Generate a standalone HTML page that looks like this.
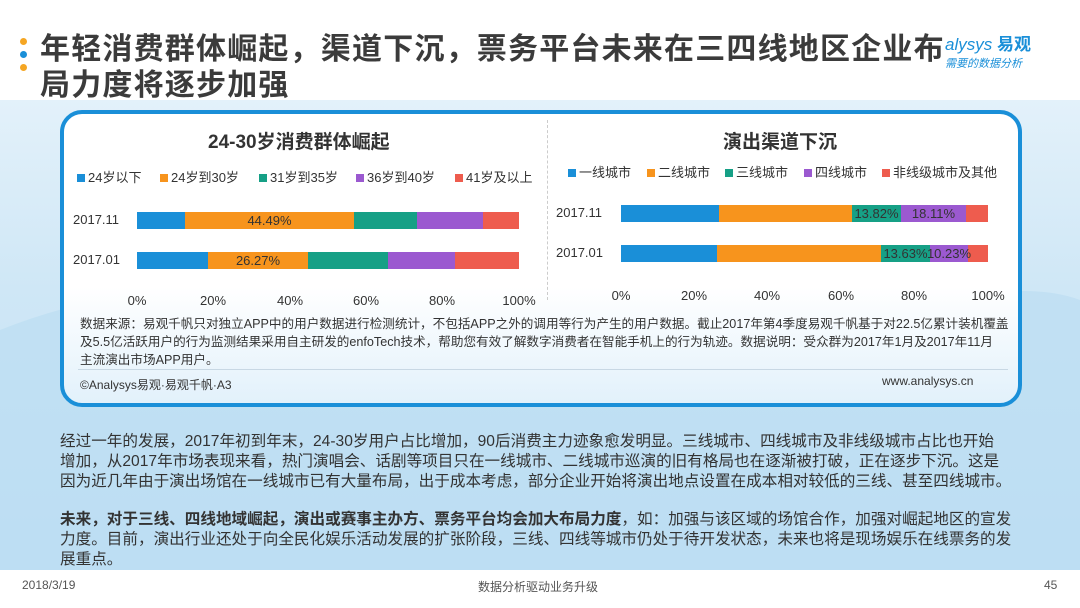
<!DOCTYPE html>
<html><head><meta charset="utf-8"><style>
*{margin:0;padding:0;box-sizing:border-box}
body{width:1080px;height:608px;position:relative;overflow:hidden;background:#fff;font-family:"Liberation Sans","Noto Sans CJK SC",sans-serif;color:#333}
.a{position:absolute;white-space:nowrap}
.bar{position:absolute;height:17px}
.lbl{position:absolute;font-size:13px;color:#333;text-align:center;line-height:17px}
.tk{position:absolute;font-size:13px;color:#333;width:50px;text-align:center}
.lg{position:absolute;font-size:13px;color:#333}
.lg i{display:inline-block;width:8px;height:8px;margin:0 3px 1px 0;vertical-align:middle}
</style></head><body>
<div class="a" style="left:0;top:100px;width:1080px;height:470px;background:linear-gradient(180deg,#e3f1fa 0%,#cfe7f6 40%,#c2e1f4 100%)"></div>
<svg class="a" style="left:0;top:100px" width="1080" height="470">
<path d="M0 230 Q200 150 420 230 T820 240 T1080 200 L1080 470 L0 470Z" fill="#b9dcf2" opacity=".6"/>
</svg>
<div class="a" style="left:20px;top:38px;width:7px;height:7px;border-radius:50%;background:#f5a623"></div>
<div class="a" style="left:20px;top:51px;width:7px;height:7px;border-radius:50%;background:#1a8fd8"></div>
<div class="a" style="left:20px;top:64px;width:7px;height:7px;border-radius:50%;background:#f5a623"></div>
<div class="a" style="left:40px;top:32px;font-size:30px;letter-spacing:1.2px;font-weight:bold;color:#3b3b3b;line-height:36px">年轻消费群体崛起，渠道下沉，票务平台未来在三四线地区企业布<br>局力度将逐步加强</div>
<div class="a" style="left:945px;top:30px;font-size:17px;color:#1a8fd8;font-style:italic">alysys <b style="font-style:normal">易观</b></div>
<div class="a" style="left:945px;top:55px;font-size:11px;color:#1a8fd8;font-style:italic">需要的数据分析</div>
<div class="a" style="left:60px;top:110px;width:962px;height:297px;border:4px solid #1a8fd8;border-radius:22px;background:linear-gradient(180deg,#fff 0%,#fff 60%,#e2f1fb 100%)"></div>
<div class="a" style="left:547px;top:120px;height:180px;border-left:1px dashed #ccc"></div>
<div class="a" style="left:208px;top:127px;font-size:19px;font-weight:bold;color:#333">24-30岁消费群体崛起</div>
<div class="a" style="left:723px;top:127px;font-size:19px;font-weight:bold;color:#333">演出渠道下沉</div>
<div class="lg" style="left:77px;top:167px"><i style="background:#1a8fd8"></i>24岁以下</div>
<div class="lg" style="left:160px;top:167px"><i style="background:#f7941d"></i>24岁到30岁</div>
<div class="lg" style="left:259px;top:167px"><i style="background:#16a086"></i>31岁到35岁</div>
<div class="lg" style="left:356px;top:167px"><i style="background:#9b59d0"></i>36岁到40岁</div>
<div class="lg" style="left:455px;top:167px"><i style="background:#ee5c4e"></i>41岁及以上</div>
<div class="lg" style="left:568px;top:162px"><i style="background:#1a8fd8"></i>一线城市</div>
<div class="lg" style="left:647px;top:162px"><i style="background:#f7941d"></i>二线城市</div>
<div class="lg" style="left:725px;top:162px"><i style="background:#16a086"></i>三线城市</div>
<div class="lg" style="left:804px;top:162px"><i style="background:#9b59d0"></i>四线城市</div>
<div class="lg" style="left:882px;top:162px"><i style="background:#ee5c4e"></i>非线级城市及其他</div>
<div class="a" style="left:73px;top:212px;font-size:13px">2017.11</div>
<div class="a" style="left:73px;top:252px;font-size:13px">2017.01</div>
<div class="bar" style="left:137px;top:212px;width:48px;background:#1a8fd8"></div>
<div class="bar" style="left:185px;top:212px;width:169px;background:#f7941d"></div>
<div class="bar" style="left:354px;top:212px;width:63px;background:#16a086"></div>
<div class="bar" style="left:417px;top:212px;width:66px;background:#9b59d0"></div>
<div class="bar" style="left:483px;top:212px;width:36px;background:#ee5c4e"></div>
<div class="lbl" style="left:185px;top:212px;width:169px">44.49%</div>
<div class="bar" style="left:137px;top:252px;width:71px;background:#1a8fd8"></div>
<div class="bar" style="left:208px;top:252px;width:100px;background:#f7941d"></div>
<div class="bar" style="left:308px;top:252px;width:80px;background:#16a086"></div>
<div class="bar" style="left:388px;top:252px;width:67px;background:#9b59d0"></div>
<div class="bar" style="left:455px;top:252px;width:64px;background:#ee5c4e"></div>
<div class="lbl" style="left:208px;top:252px;width:100px">26.27%</div>
<div class="tk" style="left:112px;top:293px">0%</div>
<div class="tk" style="left:188px;top:293px">20%</div>
<div class="tk" style="left:265px;top:293px">40%</div>
<div class="tk" style="left:341px;top:293px">60%</div>
<div class="tk" style="left:417px;top:293px">80%</div>
<div class="tk" style="left:494px;top:293px">100%</div>
<div class="a" style="left:556px;top:205px;font-size:13px">2017.11</div>
<div class="a" style="left:556px;top:245px;font-size:13px">2017.01</div>
<div class="bar" style="left:621px;top:205px;width:98px;background:#1a8fd8"></div>
<div class="bar" style="left:719px;top:205px;width:133px;background:#f7941d"></div>
<div class="bar" style="left:852px;top:205px;width:49px;background:#16a086"></div>
<div class="bar" style="left:901px;top:205px;width:65px;background:#9b59d0"></div>
<div class="bar" style="left:966px;top:205px;width:22px;background:#ee5c4e"></div>
<div class="lbl" style="left:852px;top:205px;width:49px">13.82%</div>
<div class="lbl" style="left:901px;top:205px;width:65px">18.11%</div>
<div class="bar" style="left:621px;top:245px;width:96px;background:#1a8fd8"></div>
<div class="bar" style="left:717px;top:245px;width:164px;background:#f7941d"></div>
<div class="bar" style="left:881px;top:245px;width:49px;background:#16a086"></div>
<div class="bar" style="left:930px;top:245px;width:38px;background:#9b59d0"></div>
<div class="bar" style="left:968px;top:245px;width:20px;background:#ee5c4e"></div>
<div class="lbl" style="left:881px;top:245px;width:49px">13.63%</div>
<div class="lbl" style="left:926px;top:245px;width:46px">10.23%</div>
<div class="tk" style="left:596px;top:288px">0%</div>
<div class="tk" style="left:669px;top:288px">20%</div>
<div class="tk" style="left:742px;top:288px">40%</div>
<div class="tk" style="left:816px;top:288px">60%</div>
<div class="tk" style="left:889px;top:288px">80%</div>
<div class="tk" style="left:963px;top:288px">100%</div>
<div class="a" style="left:80px;top:315px;font-size:12.6px;line-height:18px;color:#333">数据来源：易观千帆只对独立APP中的用户数据进行检测统计，不包括APP之外的调用等行为产生的用户数据。截止2017年第4季度易观千帆基于对22.5亿累计装机覆盖<br>及5.5亿活跃用户的行为监测结果采用自主研发的enfoTech技术，帮助您有效了解数字消费者在智能手机上的行为轨迹。数据说明：受众群为2017年1月及2017年11月<br>主流演出市场APP用户。</div>
<div class="a" style="left:78px;top:369px;width:930px;border-top:1px solid #c8d8e4"></div>
<div class="a" style="left:80px;top:376px;font-size:12px">©Analysys易观·易观千帆·A3</div>
<div class="a" style="left:882px;top:374px;font-size:12px">www.analysys.cn</div>
<div class="a" style="left:60px;top:432px;font-size:15.6px;line-height:20px;color:#333">经过一年的发展，2017年初到年末，24-30岁用户占比增加，90后消费主力迹象愈发明显。三线城市、四线城市及非线级城市占比也开始<br>增加，从2017年市场表现来看，热门演唱会、话剧等项目只在一线城市、二线城市巡演的旧有格局也在逐渐被打破，正在逐步下沉。这是<br>因为近几年由于演出场馆在一线城市已有大量布局，出于成本考虑，部分企业开始将演出地点设置在成本相对较低的三线、甚至四线城市。</div>
<div class="a" style="left:60px;top:510px;font-size:15.6px;line-height:20px;color:#333"><b>未来，对于三线、四线地域崛起，演出或赛事主办方、票务平台均会加大布局力度</b>，如：加强与该区域的场馆合作，加强对崛起地区的宣发<br>力度。目前，演出行业还处于向全民化娱乐活动发展的扩张阶段，三线、四线等城市仍处于待开发状态，未来也将是现场娱乐在线票务的发<br>展重点。</div>
<div class="a" style="left:22px;top:578px;font-size:12px;color:#555">2018/3/19</div>
<div class="a" style="left:478px;top:578px;font-size:12px;color:#555">数据分析驱动业务升级</div>
<div class="a" style="left:1044px;top:578px;font-size:12px;color:#555">45</div>
</body></html>
